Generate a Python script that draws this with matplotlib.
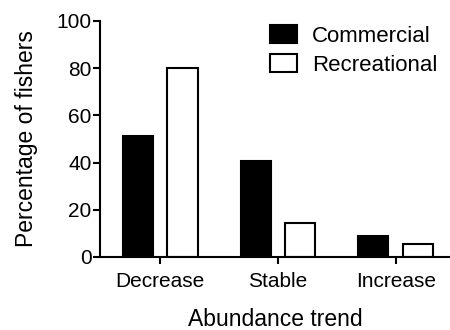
import numpy as np
import matplotlib
matplotlib.use("Agg")
from matplotlib import pyplot as plt

categories = ["Decrease", "Stable", "Increase"]
commercial = [51.3, 40.7, 8.9]
recreational = [80.0, 14.5, 5.5]
y_ticks = [0, 20, 40, 60, 80, 100]

plt.rcParams['font.family'] = ['Liberation Sans', 'DejaVu Sans']

fig = plt.figure(figsize=(4.5, 3.3), dpi=100)
ax = fig.add_axes([100 / 450, 1 - 257 / 330, 350 / 450, 236 / 330])

x = np.arange(len(categories))
width = 0.255
off = 0.19
ax.bar(x - off, commercial, width, color='black', edgecolor='black',
       linewidth=1.5, label='Commercial')
ax.bar(x + off, recreational, width, color='white', edgecolor='black',
       linewidth=1.5, label='Recreational')

ax.set_xlim(-0.51, 2.46)
ax.set_ylim(0, 100)
ax.set_xticks(x)
ax.set_xticklabels(categories, fontsize=15)
ax.set_yticks(y_ticks)
ax.set_yticklabels([str(t) for t in y_ticks], fontsize=15)

for side in ['top', 'right']:
    ax.spines[side].set_visible(False)
for side in ['left', 'bottom']:
    ax.spines[side].set_linewidth(1.5)
ax.tick_params(axis='both', direction='out', length=5, width=1.5, pad=1)
ax.tick_params(axis='x', pad=6)

ax.set_xlabel('Abundance trend', fontsize=16.5, labelpad=12)
ax.set_ylabel('Percentage of fishers', fontsize=16.5, labelpad=13)

ax.legend(loc='upper left', bbox_to_anchor=(270 / 450, 1 - 25 / 330),
          bbox_transform=fig.transFigure, frameon=False, fontsize=16,
          borderpad=0, borderaxespad=0, handlelength=1.2, handleheight=0.85,
          handletextpad=0.7, labelspacing=0.35)

fig.savefig('out.png', dpi=100)
